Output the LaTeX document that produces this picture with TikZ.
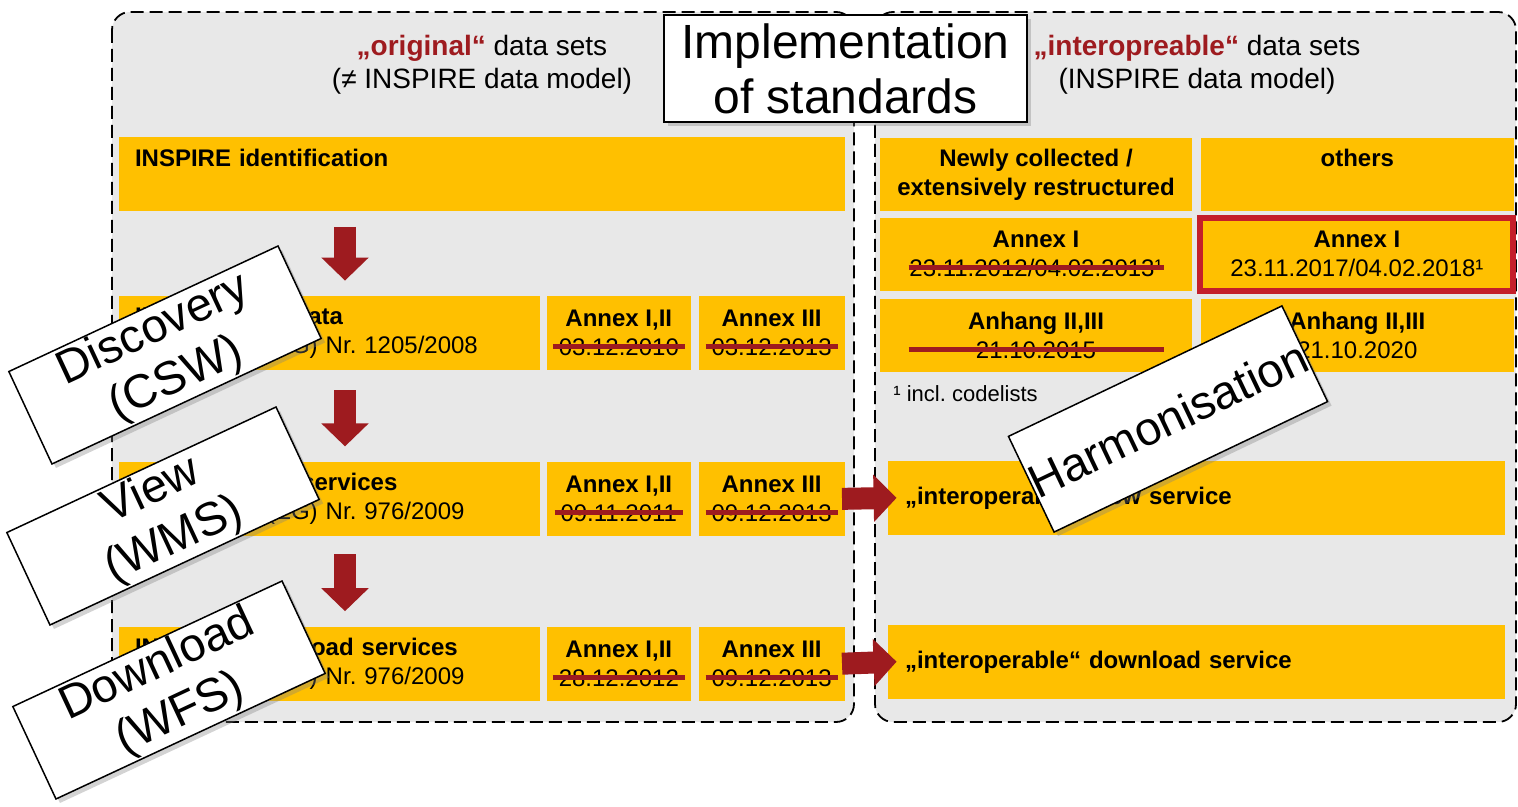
\documentclass[tikz,border=0pt]{standalone}
\usepackage{fontspec}
\setmainfont{Liberation Sans}
\usepackage{tikz}
\usetikzlibrary{positioning}
\usetikzlibrary{arrows.meta,shadows}
\definecolor{boxYellow}{HTML}{FFC000}
\definecolor{groupGray}{HTML}{E8E8E8}
\definecolor{darkRed}{HTML}{9E1B1F}
\definecolor{hiRed}{HTML}{C41E2A}
\frenchspacing
% date with a red line through it (optional fixed line length)
\newcommand{\struck}[2][]{%
	\setbox0=\hbox{#2}%
	\ifx\relax#1\relax\dimen0=\dimexpr\wd0+6pt\relax\else\dimen0=#1\relax\fi
	\copy0\llap{\hbox to \wd0{\hss\textcolor{darkRed}{\rule[3.3pt]{\dimen0}{2.5pt}}\hss}}}
\tikzstyle{yellowBox}=[rectangle, fill=boxYellow, inner xsep=8pt, inner ysep=0pt, minimum height=37pt, font=\fontsize{12}{14.5}\selectfont]
\tikzstyle{mainBox}=[yellowBox, text width=194.5pt, align=left]
\tikzstyle{annexBox}=[yellowBox, inner xsep=3pt, align=center]
\tikzset{
	groupArea/.style={
		fill=groupGray,
		draw=black,
		line width=0.9pt,
		dash pattern=on 6.5pt off 3pt,
		rounded corners=9pt
	},
	headText/.style={
		align=center,
		font=\fontsize{14}{16.5}\selectfont
	},
	card/.style={
		draw=black,
		fill=white,
		line width=0.75pt,
		align=center,
		inner sep=0pt,
		font=\fontsize{23.5}{27}\selectfont,
		drop shadow={shadow xshift=2pt, shadow yshift=-2pt, opacity=0.35}
	},
	stickyNote/.style={
		card,
		rotate=25,
		minimum width=148.5pt,
		minimum height=51pt
	},
	blockArrow/.style={
		draw=darkRed,
		line width=11pt,
		-{Triangle[width=23pt, length=11.5pt]}
	}
}
\pgfdeclarelayer{background}
\pgfsetlayers{background,main}

\begin{document}
\begin{tikzpicture}[x=0.5pt, y=-0.5pt]
	\useasboundingbox (0,0) rectangle (1518,807);
	
	\begin{pgfonlayer}{background}
	% the two data set areas
	\path[groupArea] (112,12) rectangle (854,722);
	\path[groupArea] (875,12) rectangle (1516,722);
	\end{pgfonlayer}
	
	\node(origHead)[headText] at (482,65) {\textcolor{darkRed}{\textbf{„original“}} data sets\\(≠ INSPIRE data model)};
	\node(interHead)[headText] at (1197,65) {\textcolor{darkRed}{\textbf{„interopreable“}} data sets\\(INSPIRE data model)};
	
	% left side
	\node(ident)[yellowBox, text width=347pt, align=left] at (482,174.5) {\textbf{INSPIRE identification}\\\vphantom{y}};
	
	\node(metaMain)[mainBox] at (329.5,333) {\textbf{INSPIRE Metadata}\\Verordnung (EG) Nr. 1205/2008};
	\node(metaA)[annexBox, minimum width=72pt, right=3pt of metaMain] {\textbf{Annex I,II}\\\struck{03.12.2010}};
	\node(metaB)[annexBox, minimum width=73pt, right=3.5pt of metaA] {\textbf{Annex III}\\\struck{03.12.2013}};
	
	\node(viewMain)[mainBox, below=45.5pt of metaMain] {\textbf{INSPIRE View services}\\Verordnung (EG) Nr. 976/2009};
	\node(viewA)[annexBox, minimum width=72pt, right=3pt of viewMain] {\textbf{Annex I,II}\\\struck{09.11.2011}};
	\node(viewB)[annexBox, minimum width=73pt, right=3.5pt of viewA] {\textbf{Annex III}\\\struck{09.12.2013}};
	
	\node(dlMain)[mainBox, below=45pt of viewMain] {\textbf{INSPIRE Download services}\\Verordnung (EG) Nr. 976/2009};
	\node(dlA)[annexBox, minimum width=72pt, right=3pt of dlMain] {\textbf{Annex I,II}\\\struck{28.12.2012}};
	\node(dlB)[annexBox, minimum width=73pt, right=3.5pt of dlA] {\textbf{Annex III}\\\struck{09.12.2013}};
	
	% right side
	\node(newBox)[annexBox, minimum width=156pt, minimum height=36.5pt] at (1036,174.5) {\textbf{Newly collected /}\\\textbf{extensively restructured}};
	\node(othersBox)[annexBox, minimum width=156.5pt, minimum height=36.5pt, right=4pt of newBox] {\textbf{others}\\\vphantom{y}};
	\node(annexIa)[annexBox, minimum width=156pt, minimum height=36.5pt, below=3pt of newBox] {\textbf{Annex I}\\\struck[127.5pt]{23.11.2012/04.02.2013¹}};
	\node(annexIb)[annexBox, minimum width=156.5pt, minimum height=36.5pt, outer sep=0pt, right=4pt of annexIa, draw=hiRed, line width=3pt] {\textbf{Annex I}\\23.11.2017/04.02.2018¹};
	\node(anhangA)[annexBox, minimum width=156pt, minimum height=36.5pt, below=3.5pt of annexIa] {\textbf{Anhang II,III}\\\struck[127.5pt]{21.10.2015}};
	\node(anhangB)[annexBox, minimum width=156.5pt, minimum height=36.5pt, right=4pt of anhangA] {\textbf{Anhang II,III}\\21.10.2020};
	\node(footNote)[anchor=west, inner sep=0pt, font=\fontsize{11}{13}\selectfont] at (893,394) {¹ incl. codelists};
	
	\node(viewInterop)[yellowBox, inner xsep=8.5pt, text width=291.5pt, align=left] at (1196.5,498) {\textbf{„interoperable“ view service}};
	\node(dlInterop)[yellowBox, inner xsep=8.5pt, text width=291.5pt, align=left] at (1196.5,662) {\textbf{„interoperable“ download service}};
	
	% arrows
	\coordinate (arrowX) at (345,0);
	\draw [blockArrow, shorten <=7.5pt, shorten >=7.5pt] (ident.south -| arrowX) -- (metaMain.north -| arrowX);
	\draw [blockArrow, shorten <=10pt, shorten >=7.5pt] (metaMain.south -| arrowX) -- (viewMain.north -| arrowX);
	\draw [blockArrow, shorten <=9pt, shorten >=7.5pt] (viewMain.south -| arrowX) -- (dlMain.north -| arrowX);
	\draw [blockArrow, shorten <=-1.5pt, shorten >=-4.5pt] (viewB.east) -- (viewInterop.west);
	\draw [blockArrow, shorten <=-1.5pt, shorten >=-4.5pt] (dlB.east) -- (dlInterop.west);
	
	% labels on top
	\node(discCard)[stickyNote] at (165,355) {Discovery\\(CSW)};
	\node(viewCard)[stickyNote] at (163,516) {View\\(WMS)};
	\node(dlCard)[stickyNote] at (169,690) {Download\\(WFS)};
	\node(harmCard)[stickyNote, rotate=0.5, minimum height=53pt] at (1168,419) {Harmonisation};
	
	\node(implBox)[card, minimum width=181.5pt, minimum height=53.5pt, font=\fontsize{24}{27.5}\selectfont] at (845.5,68.5) {Implementation\\of standards};
\end{tikzpicture}
\end{document}
